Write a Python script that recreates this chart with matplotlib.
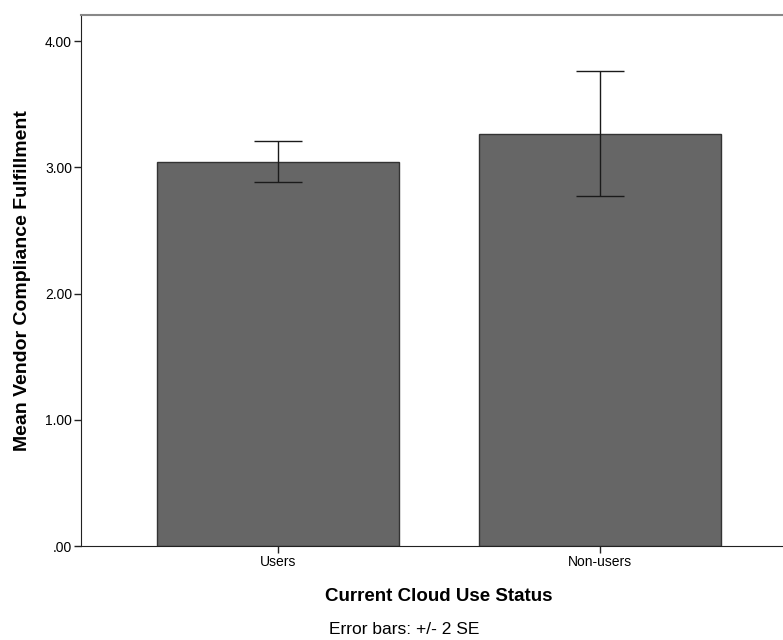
import matplotlib
matplotlib.use("Agg")
import matplotlib.pyplot as plt
import numpy as np

categories = ["Users", "Non-users"]
means = [3.045, 3.267]
err_low = [2.88, 2.77]
err_high = [3.21, 3.76]
yticks = [0.0, 1.0, 2.0, 3.0, 4.0]
ytick_labels = [".00", "1.00", "2.00", "3.00", "4.00"]

plt.rcParams['font.family'] = ['Liberation Sans', 'DejaVu Sans']

fig = plt.figure(figsize=(7.83, 6.40), dpi=100)
ax = fig.add_axes([81/783, 1 - 546/640, (797 - 81)/783, (546 - 14.5)/640])

x = np.arange(len(categories))
ax.bar(x, means, width=0.75, color="#666666", edgecolor="#333333", linewidth=1.0, zorder=2)
yerr = np.array([np.array(means) - np.array(err_low), np.array(err_high) - np.array(means)])
ax.errorbar(x, means, yerr=yerr, fmt="none", ecolor="#1a1a1a", elinewidth=1.0,
            capsize=17.6, capthick=1.0, zorder=3)

ax.set_xlim(-0.612, 1.612)
ax.set_ylim(0, 4.21)
ax.set_xticks(x)
ax.set_xticklabels(categories, fontsize=10)
ax.set_yticks(yticks)
ax.set_yticklabels(ytick_labels, fontsize=10)
ax.tick_params(axis="both", direction="out", length=5, width=1, color="#222222", pad=1.5)

ax.spines["right"].set_visible(False)
ax.spines["top"].set_color("#888888")
ax.spines["top"].set_linewidth(1.5)
ax.spines["left"].set_color("#222222")
ax.spines["bottom"].set_color("#222222")

ax.set_xlabel("Current Cloud Use Status", fontsize=13.5, fontweight="bold", labelpad=14)
ax.set_ylabel("Mean Vendor Compliance Fulfillment", fontsize=14, fontweight="bold", labelpad=10)

fig.text(404/783, 1 - 630/640, "Error bars: +/- 2 SE", ha="center", va="center", fontsize=12.5)

fig.savefig("out.png", dpi=100)
